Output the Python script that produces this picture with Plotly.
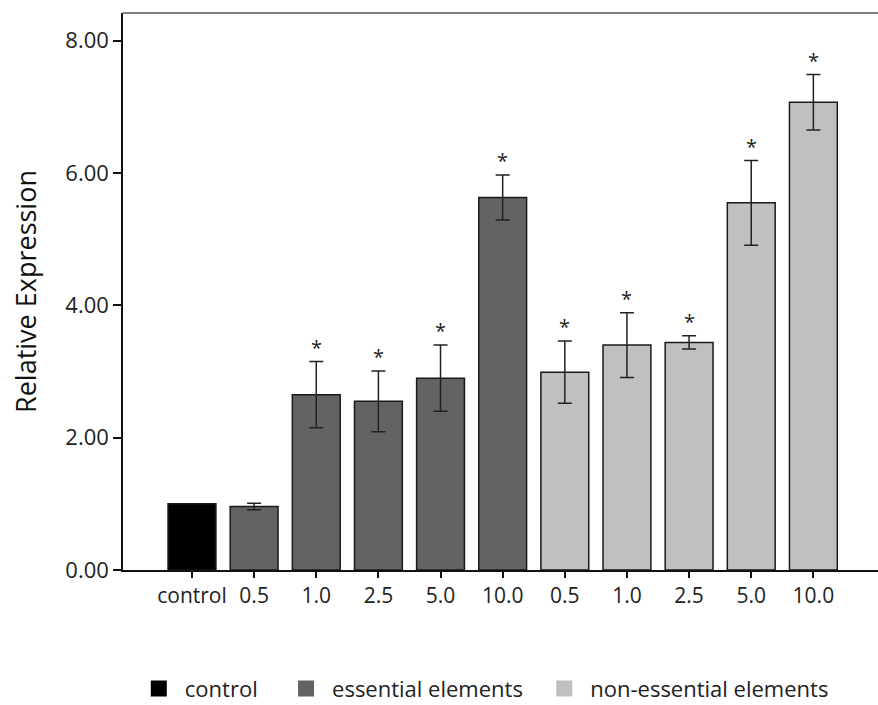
import plotly.graph_objects as go

# Relative expression per treatment (concentration groups)
tick_labels = ["control", "0.5", "1.0", "2.5", "5.0", "10.0",
               "0.5", "1.0", "2.5", "5.0", "10.0"]
groups = ["control", "essential elements", "essential elements", "essential elements",
          "essential elements", "essential elements",
          "non-essential elements", "non-essential elements", "non-essential elements",
          "non-essential elements", "non-essential elements"]
values = [1.00, 0.96, 2.65, 2.55, 2.90, 5.63, 2.99, 3.40, 3.44, 5.55, 7.07]
errors = [0.0, 0.05, 0.50, 0.46, 0.50, 0.34, 0.47, 0.49, 0.10, 0.64, 0.42]
significant = [False, False, True, True, True, True, True, True, True, True, True]

group_colors = {
    "control": "#000000",
    "essential elements": "#636363",
    "non-essential elements": "#c0c0c0",
}
# one legend box per group so each entry can be placed along the bottom
legend_ids = {"control": "legend", "essential elements": "legend2",
              "non-essential elements": "legend3"}
legend_x = {"legend": 0.013, "legend2": 0.208, "legend3": 0.550}

FONT = "Open Sans"
TEXT_COLOR = "#222222"

positions = list(range(len(values)))
fig = go.Figure()

for name, color in group_colors.items():
    idx = [i for i, g in enumerate(groups) if g == name]
    has_err = any(errors[i] > 0 for i in idx)
    fig.add_trace(go.Bar(
        x=[positions[i] for i in idx],
        y=[values[i] for i in idx],
        width=0.77,
        marker=dict(color=color, line=dict(color="#1a1a1a", width=1.5)),
        error_y=dict(type="data", array=[errors[i] for i in idx], visible=has_err,
                     color="#222222", thickness=1.5, width=7),
        name=name,
        showlegend=False,
    ))
    # legend entry with a larger square swatch
    fig.add_trace(go.Scatter(
        x=[None], y=[None], mode="markers", name=name,
        legend=legend_ids[name],
        marker=dict(symbol="square", size=16, color=color, line=dict(width=0)),
    ))

# significance markers above the error bars
for i, (v, e, s) in enumerate(zip(values, errors, significant)):
    if s:
        fig.add_annotation(x=positions[i], y=v + e, text="*", showarrow=False,
                           yanchor="bottom", yshift=-1,
                           font=dict(family=FONT, size=20, color=TEXT_COLOR))

# light frame line along the top of the plotting area
fig.add_shape(type="line", xref="paper", yref="paper", x0=0, x1=1, y0=1, y1=1,
              line=dict(color="#808080", width=2))

legend_style = dict(orientation="h", y=-0.213, xanchor="left", yanchor="middle",
                    font=dict(family=FONT, size=22, color=TEXT_COLOR),
                    itemwidth=42, bgcolor="rgba(0,0,0,0)")

fig.update_layout(
    width=878, height=705,
    margin=dict(l=123, r=0, t=13, b=135, autoexpand=False),
    paper_bgcolor="white", plot_bgcolor="white",
    font=dict(family=FONT, size=22, color=TEXT_COLOR),
    legend=dict(x=legend_x["legend"], **legend_style),
    legend2=dict(x=legend_x["legend2"], **legend_style),
    legend3=dict(x=legend_x["legend3"], **legend_style),
    xaxis=dict(
        range=[-1.11, 11.04],
        tickmode="array", tickvals=positions, ticktext=tick_labels,
        showline=True, linecolor="#111111", linewidth=1.5,
        ticks="outside", ticklen=6, tickcolor="#111111", tickwidth=1.5,
        showgrid=False, zeroline=False,
        tickfont=dict(family=FONT, size=21, color=TEXT_COLOR),
    ),
    yaxis=dict(
        range=[0, 8.42],
        tickvals=[0, 2, 4, 6, 8], tickformat=".2f",
        showline=True, linecolor="#111111", linewidth=1.5,
        ticks="outside", ticklen=8, tickcolor="#111111", tickwidth=1.5,
        showgrid=False, zeroline=False,
        tickfont=dict(family=FONT, size=22, color=TEXT_COLOR),
        title=dict(text="Relative Expression", standoff=21,
                   font=dict(family=FONT, size=27, color="#111111")),
    ),
)

fig.write_html("out.html")
